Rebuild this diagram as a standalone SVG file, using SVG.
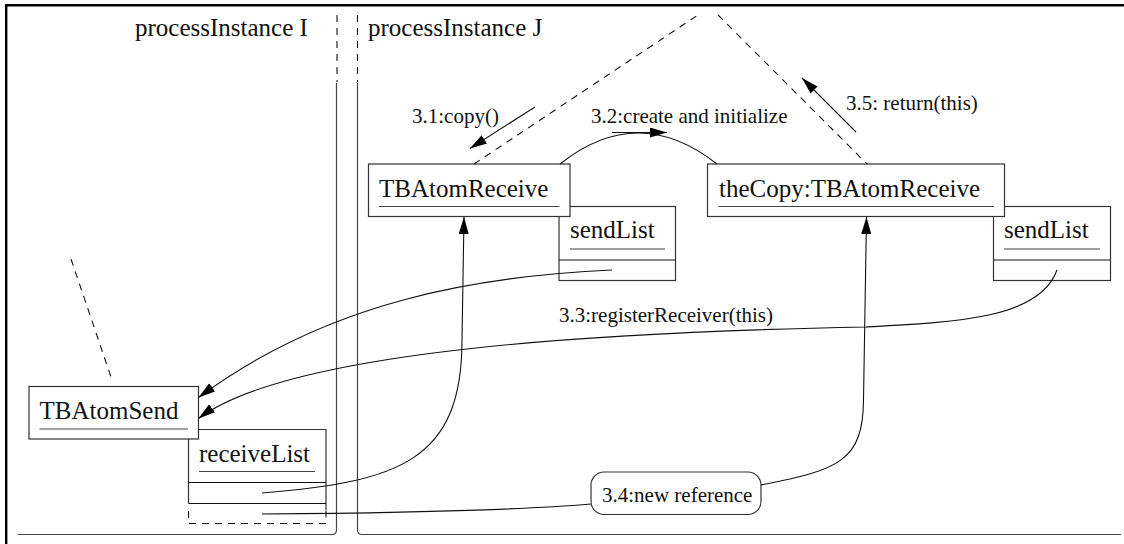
<svg xmlns="http://www.w3.org/2000/svg" width="1124" height="544" viewBox="0 0 1124 544">
  <style>
    .box { fill: #ffffff; stroke: #333333; stroke-width: 1.2; }
    .rule { stroke: #444444; stroke-width: 1.2; fill: none; }
    .ln { stroke: #111111; stroke-width: 1.1; fill: none; }
    .dash { stroke: #111111; stroke-width: 1.1; fill: none; stroke-dasharray: 7 6; }
    .name { font-family: "Liberation Serif", "Times New Roman", serif; font-size: 25px; fill: #111111; }
    .lbl { font-family: "Liberation Serif", "Times New Roman", serif; font-size: 21px; fill: #111111; }
  </style>
  <defs>
    <marker id="arrow" markerUnits="userSpaceOnUse" markerWidth="18" markerHeight="11" refX="17" refY="5" orient="auto">
      <path d="M0,0 L17,5 L0,10 z" fill="#000000"/>
    </marker>
  </defs>

  <rect x="0" y="0" width="1124" height="544" fill="#ffffff"/>

  <!-- outer frame -->
  <g id="frame">
    <path d="M6.2,544 V5.2 H1124" fill="none" stroke="#000000" stroke-width="2.4"/>
    <!-- process I boundary -->
    <path class="dash" d="M337,15 V82" stroke-dasharray="5 7"/>
    <path class="rule" d="M336.5,83 V530 Q336.5,534.5 332,534.5 H18"/>
    <!-- process J boundary -->
    <path class="dash" d="M357.5,15 V82" stroke-dasharray="5 7"/>
    <path class="rule" d="M357.5,83 V530 Q357.5,534.5 362,534.5 H1121"/>
    <text class="name" x="135" y="36">processInstance I</text>
    <text class="name" x="368" y="36">processInstance J</text>
  </g>

  <!-- list objects (drawn beneath their owners) -->
  <g id="sendList1">
    <rect class="box" x="559" y="206.5" width="116.5" height="74"/>
    <line class="ln" x1="559" y1="260" x2="675.5" y2="260"/>
    <text class="name" x="570" y="238">sendList</text>
    <line class="rule" x1="570" y1="249" x2="665" y2="249"/>
  </g>
  <g id="sendList2">
    <rect class="box" x="993.5" y="206.5" width="117" height="74"/>
    <line class="ln" x1="993.5" y1="260" x2="1110.5" y2="260"/>
    <text class="name" x="1004" y="238">sendList</text>
    <line class="rule" x1="1004" y1="249" x2="1100" y2="249"/>
  </g>
  <g id="receiveList">
    <path class="box" d="M188.5,503.5 V429.5 H326 V510"/>
    <line class="ln" x1="188.5" y1="482.5" x2="326" y2="482.5"/>
    <line class="ln" x1="188.5" y1="503.5" x2="326" y2="503.5"/>
    <path class="dash" d="M188.5,511 V523.5 H326 V510" stroke-dasharray="6 6"/>
    <text class="name" x="199" y="462">receiveList</text>
    <line class="rule" x1="199" y1="471.5" x2="315" y2="471.5"/>
  </g>

  <!-- objects -->
  <g id="TBAtomReceive">
    <rect class="box" x="368.5" y="164" width="201.5" height="52.5"/>
    <text class="name" x="379" y="197">TBAtomReceive</text>
    <line class="rule" x1="379" y1="206.5" x2="559.5" y2="206.5"/>
  </g>
  <g id="theCopy">
    <rect class="box" x="707.5" y="164" width="297" height="52.5"/>
    <text class="name" x="719" y="197">theCopy:TBAtomReceive</text>
    <line class="rule" x1="718.5" y1="206.5" x2="994" y2="206.5"/>
  </g>
  <g id="TBAtomSend">
    <rect class="box" x="29" y="386.5" width="169.5" height="52.5"/>
    <text class="name" x="39.5" y="419">TBAtomSend</text>
    <line class="rule" x1="39.5" y1="429" x2="188" y2="429"/>
  </g>
  <g id="newReference">
    <rect class="box" x="591" y="472" width="170" height="42.5" rx="13" ry="13"/>
    <text class="lbl" x="602" y="502">3.4:new reference</text>
  </g>

  <!-- links, messages and references -->
  <g id="connectors">
    <!-- links -->
    <path class="dash" d="M474,164 L698,15"/>
    <path class="dash" d="M718,15 L867,164"/>
    <path class="dash" d="M71,259 L112,380"/>
    <path class="ln" d="M560,164 Q638,102 717,164"/>

    <!-- message arrows -->
    <line class="ln" x1="535" y1="107" x2="470" y2="148.5" marker-end="url(#arrow)"/>
    <line class="ln" x1="612" y1="132.5" x2="667" y2="132.5" marker-end="url(#arrow)"/>
    <line class="ln" x1="856" y1="132" x2="802" y2="78" marker-end="url(#arrow)"/>

    <!-- sendList references to TBAtomSend -->
    <path class="ln" d="M612,270 C480,276 330,300 198.5,397.5" marker-end="url(#arrow)"/>
    <path class="ln" d="M1057,270 C1040,318 960,322 866,327 C600,332 290,350 198.5,418.5" marker-end="url(#arrow)"/>

    <!-- receiveList references -->
    <path class="ln" d="M262,493 C400,482 462,460 462,340 L464,217" marker-end="url(#arrow)"/>
    <path class="ln" d="M262,514 C400,513 520,510 591,504"/>
    <path class="ln" d="M761,485 C840,470 863,460 863.5,400 L866.5,217" marker-end="url(#arrow)"/>

    <!-- message labels -->
    <text class="lbl" x="412" y="123">3.1:copy()</text>
    <text class="lbl" x="591" y="123">3.2:create and initialize</text>
    <text class="lbl" x="846" y="110">3.5: return(this)</text>
    <text class="lbl" x="559" y="322">3.3:registerReceiver(this)</text>
  </g>
</svg>
